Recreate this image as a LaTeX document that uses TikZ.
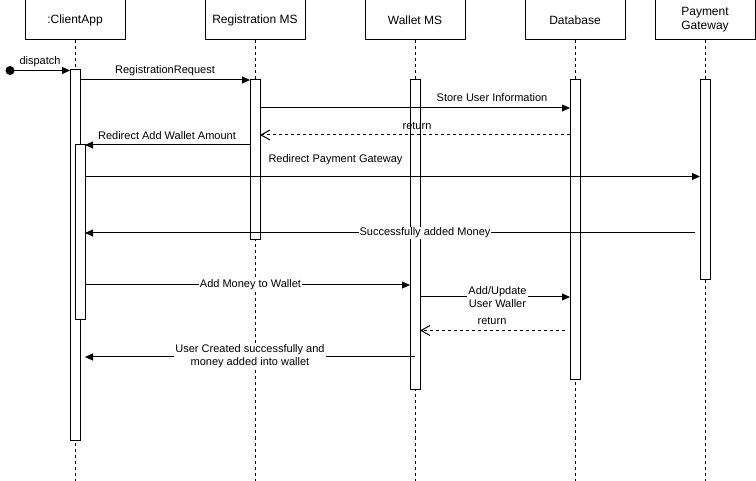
\documentclass[tikz,border=0pt]{standalone}
\usepackage{fontspec}
\setmainfont{Liberation Sans}
\usetikzlibrary{arrows.meta}
\begin{document}
\begin{tikzpicture}[x=1pt,y=-1pt,
  head/.style={draw, line width=1pt, minimum width=100pt, minimum height=40pt, inner sep=0pt, font=\fontsize{12}{14}\selectfont, align=center},
  bar/.style={draw, fill=white, line width=1pt, minimum width=10pt, inner sep=0pt},
  life/.style={line width=1pt, dash pattern=on 3pt off 3pt},
  msg/.style={line width=1pt, -{Triangle[length=8pt,width=7pt]}},
  ret/.style={line width=1pt, dash pattern=on 3pt off 3pt, -{Straight Barb[length=9pt,width=10pt]}},
  lbl/.style={font=\fontsize{11}{13.5}\selectfont, inner sep=1pt, align=center},
  lblbg/.style={lbl, fill=white, inner xsep=1pt, inner ysep=0.5pt}]
\useasboundingbox (0,0) rectangle (756,481);
% headers
\node[head] (h1) at (75,20) {:ClientApp};
\node[head] (h2) at (255,20) {Registration MS};
\node[head] (h3) at (415,20) {Wallet MS};
\node[head] (h4) at (575,20) {Database};
\node[head] (h5) at (705,20) {Payment\\Gateway};
% lifeline ends
\coordinate (e1) at (75,481);
\coordinate (e2) at (255,481);
\coordinate (e3) at (415,481);
\coordinate (e4) at (575,481);
\coordinate (e5) at (705,481);
\draw[life] (h1.south) -- (e1);
\draw[life] (h2.south) -- (e2);
\draw[life] (h3.south) -- (e3);
\draw[life] (h4.south) -- (e4);
\draw[life] (h5.south) -- (e5);
% activation bars
\node[bar, minimum height=370pt] (caBar) at (75,255) {};
\node[bar, minimum height=175pt] (caNest) at (80,232.5) {};
\node[bar, minimum height=160pt] (rgBar) at (255,160) {};
\node[bar, minimum height=310pt] (wBar) at (415,235) {};
\node[bar, minimum height=300pt] (dBar) at (575,230) {};
\node[bar, minimum height=200pt] (pBar) at (705,180) {};
% message end points
\coordinate (d0) at (10,70.5);
\coordinate (d1) at (70,70.5);
\coordinate (a1) at (80,80);   \coordinate (b1) at (250,80);
\coordinate (a2) at (260,108); \coordinate (b2) at (570,108);
\coordinate (a3) at (570,135); \coordinate (b3) at (260,135);
\coordinate (a4) at (250,145); \coordinate (b4) at (85,145);
\coordinate (a5) at (85,176.5); \coordinate (b5) at (700,176.5);
\coordinate (a6) at (695,233); \coordinate (b6) at (85,233);
\coordinate (a7) at (85,285); \coordinate (b7) at (410,285);
\coordinate (a8) at (420,297); \coordinate (b8) at (570,297);
\coordinate (a9) at (565,330.5); \coordinate (b9) at (420,330.5);
\coordinate (a10) at (415,357); \coordinate (b10) at (85,357);
% dispatch
\fill (d0) circle (4.5pt);
\draw[msg] (d0) -- (d1);
\node[lbl] (ld) at (40,61.5) {dispatch};
% messages
\draw[msg] (a1) -- (b1);
\node[lbl] (l1) at (165,71) {RegistrationRequest};
\draw[msg] (a2) -- (b2);
\node[lbl] (l2) at (492,98) {Store User Information};
\draw[ret] (a3) -- (b3);
\node[lbl] (l3) at (417,126.5) {return};
\draw[msg] (a4) -- (b4);
\node[lbl] (l4) at (167,136) {Redirect Add Wallet Amount};
\draw[msg] (a5) -- (b5);
\node[lbl] (l5) at (335.5,160) {Redirect Payment Gateway};
\draw[msg] (a6) -- (b6);
\node[lblbg] (l6) at (425,233) {Successfully added Money};
\draw[msg] (a7) -- (b7);
\node[lblbg] (l7) at (250.5,285) {Add Money to Wallet};
\draw[msg] (a8) -- (b8);
\node[lblbg] (l8) at (497.5,297) {Add/Update\\User Waller};
\draw[ret] (a9) -- (b9);
\node[lbl] (l9) at (492,321) {return};
\draw[msg] (a10) -- (b10);
\node[lblbg] (l10) at (250,356) {User Created successfully and\\money added into wallet};
\end{tikzpicture}
\end{document}
